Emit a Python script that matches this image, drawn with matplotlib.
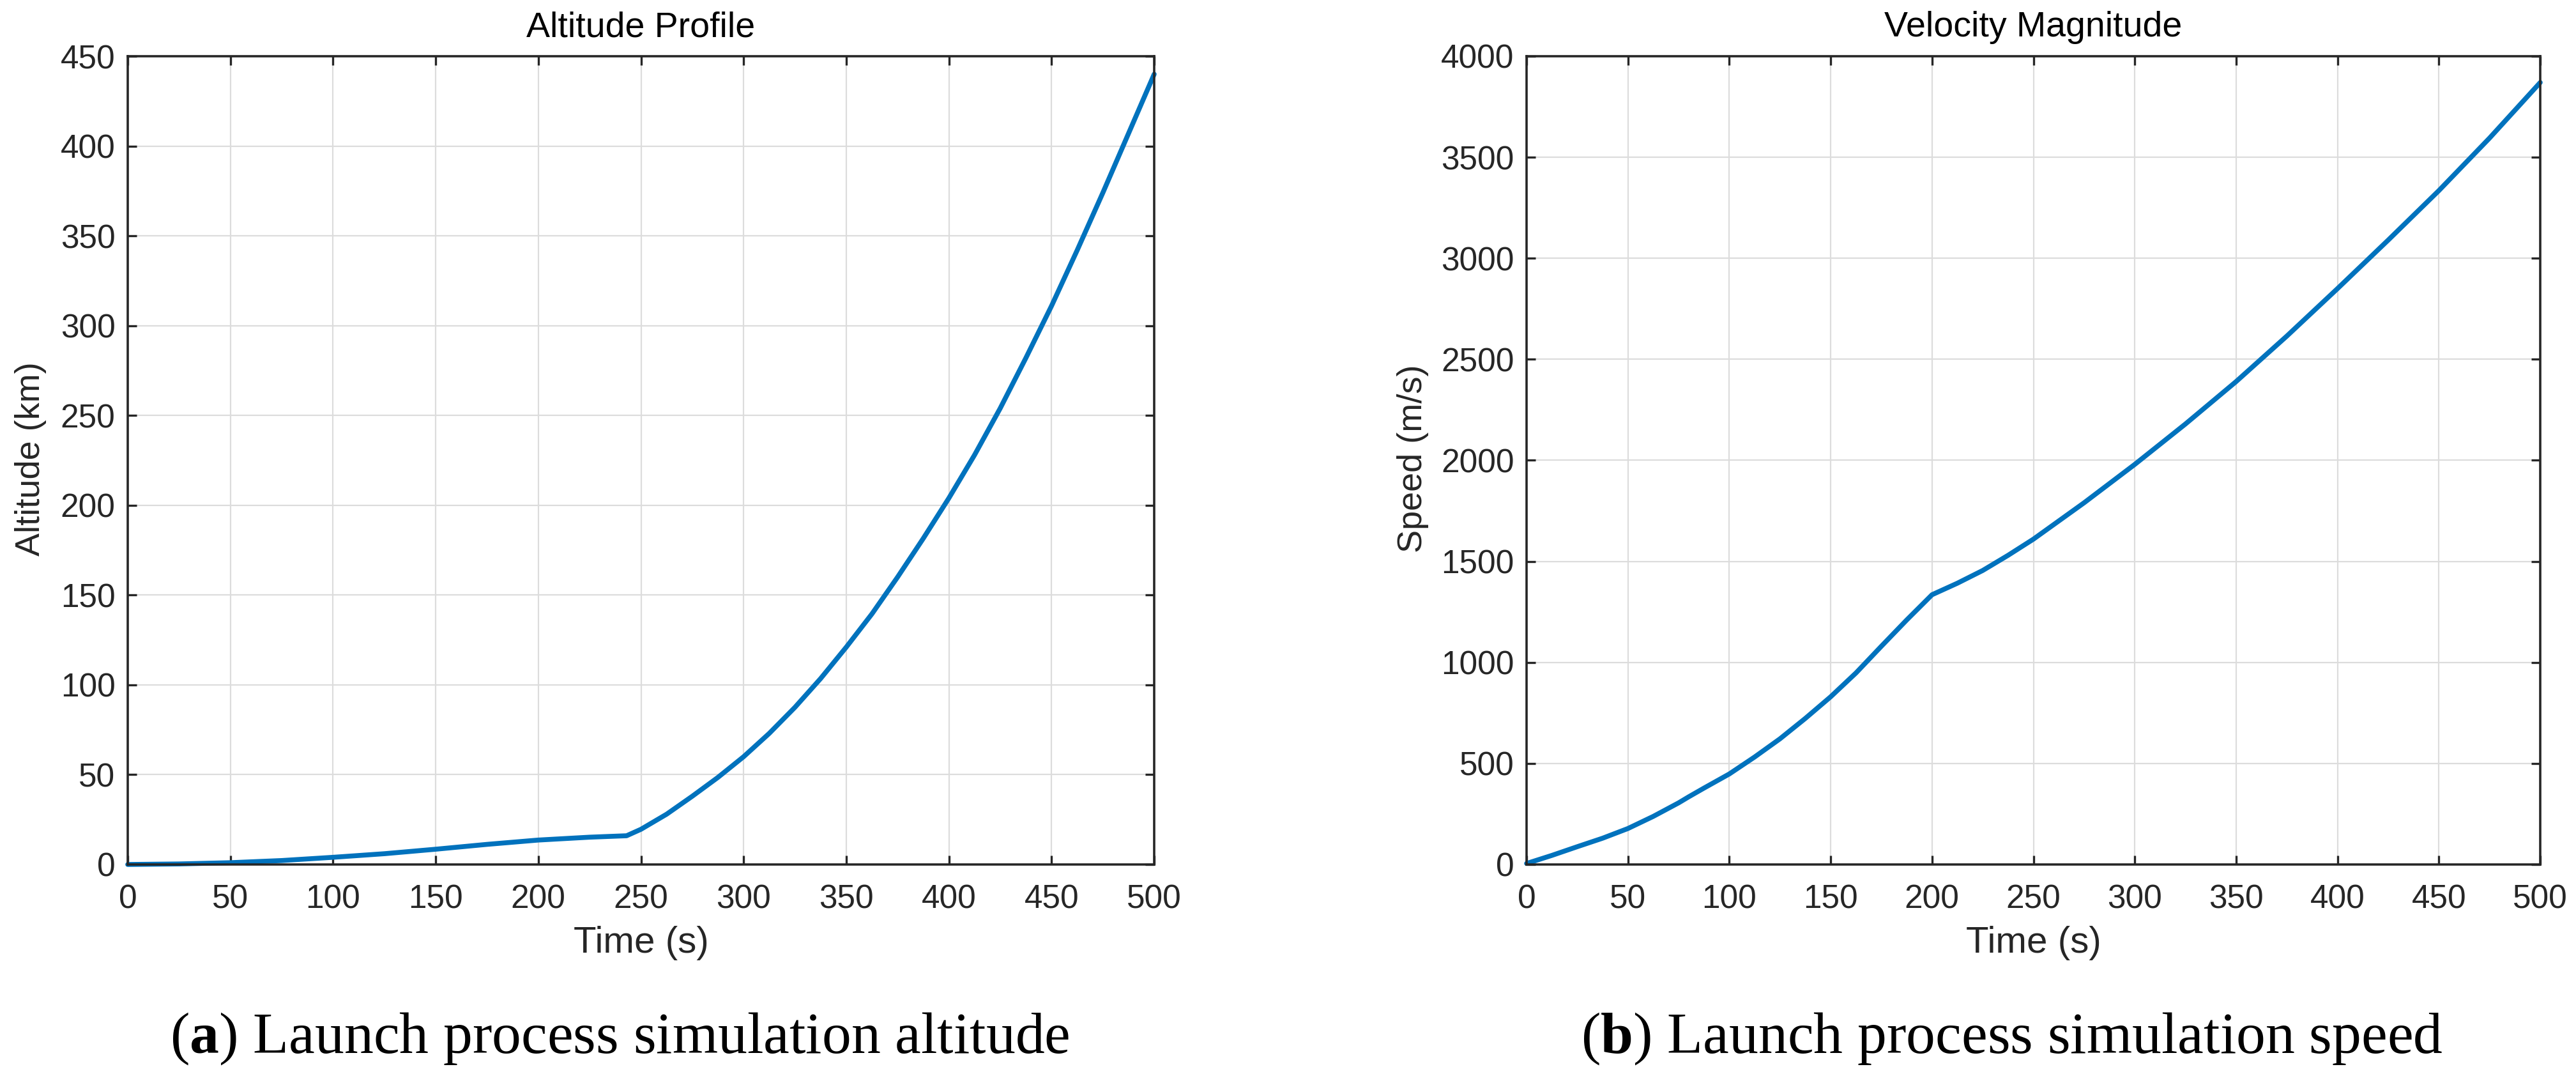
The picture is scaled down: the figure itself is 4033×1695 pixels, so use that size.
import numpy as np
import matplotlib
matplotlib.use("Agg")
import matplotlib.pyplot as plt

# Altitude profile (km) vs time (s)
alt_time = [0, 25, 50, 75, 100, 125, 150, 175, 200, 225, 243,
            250, 262.5, 275, 287.5, 300, 312.5, 325, 337.5, 350, 362.5, 375,
            387.5, 400, 412.5, 425, 437.5, 450, 462.5, 475, 487.5, 500]
alt_km = [0.0, 0.3, 1.0, 2.2, 4.0, 6.0, 8.5, 11.2, 13.6, 15.2, 16.0,
          19.6, 28.0, 38.0, 48.5, 60.0, 73.0, 87.5, 103.5, 121.0, 139.5, 160.0,
          181.5, 204.0, 228.0, 254.0, 282.0, 311.0, 342.0, 374.0, 407.0, 440.0]

# Velocity magnitude (m/s) vs time (s)
spd_time = [0, 12.5, 25, 37.5, 50, 62.5, 75, 80, 87.5, 100, 112.5, 125, 137.5,
            150, 162.5, 175, 187.5, 200, 212.5, 225, 237.5, 250, 262.5,
            275, 300, 325, 350, 375, 400, 425, 450, 475, 500]
spd_ms = [5, 45, 88, 130, 178, 238, 305, 335, 378, 448, 532, 622, 723,
          830, 948, 1080, 1210, 1335, 1392, 1455, 1530, 1610, 1700,
          1790, 1980, 2180, 2390, 2615, 2850, 3090, 3335, 3595, 3870]

x_ticks = np.arange(0, 501, 50)
alt_ticks = np.arange(0, 451, 50)
spd_ticks = np.arange(0, 4001, 500)

LINE = "#0072BD"
DARK = "#262626"

plt.rcParams["font.family"] = ["Liberation Sans", "DejaVu Sans"]
plt.rcParams["mathtext.fontset"] = "custom"
plt.rcParams["mathtext.rm"] = "Liberation Serif"
plt.rcParams["mathtext.bf"] = "Liberation Serif:bold"

W, H = 4033, 1695
fig = plt.figure(figsize=(W / 100, H / 100), dpi=100)

ax1 = fig.add_axes([200 / W, 1 - 1353 / H, 1607 / W, 1265 / H])
ax2 = fig.add_axes([2390 / W, 1 - 1353 / H, 1587 / W, 1265 / H])


def style(ax, yticks, ymax, title):
    ax.set_xlim(0, 500)
    ax.set_ylim(0, ymax)
    ax.set_xticks(x_ticks)
    ax.set_yticks(yticks)
    ax.grid(True, color="#dcdcdc", linewidth=1.6)
    ax.set_axisbelow(True)
    for s in ax.spines.values():
        s.set_color(DARK)
        s.set_linewidth(2.6)
    ax.tick_params(direction="in", length=10, width=2.4, color=DARK,
                   top=True, right=True, labelsize=37, labelcolor=DARK)
    ax.tick_params(axis="x", pad=22)
    ax.tick_params(axis="y", pad=14)
    ax.set_title(title, fontsize=40, color="black", pad=22)
    ax.set_xlabel("Time (s)", fontsize=42, color=DARK, labelpad=12)


ax1.plot(alt_time, alt_km, color=LINE, linewidth=5.5, solid_joinstyle="round",
         solid_capstyle="round", clip_on=False)
style(ax1, alt_ticks, 450, "Altitude Profile")

ax2.plot(spd_time, spd_ms, color=LINE, linewidth=5.5, solid_joinstyle="round",
         solid_capstyle="round", clip_on=False)
style(ax2, spd_ticks, 4000, "Velocity Magnitude")

# y labels
fig.text(48 / W, 1 - 718 / H, "Altitude (km)", rotation=90, ha="center", va="center",
         fontsize=39, color=DARK)
fig.text(2212 / W, 1 - 718 / H, "Speed (m/s)", rotation=90, ha="center", va="center",
         fontsize=39, color=DARK)

# sub-figure captions
fig.text(970 / W, 1 - 1648 / H, r"($\mathbf{a}$) Launch process simulation altitude",
         ha="center", va="baseline", fontsize=66, family="Liberation Serif")
fig.text(3150 / W, 1 - 1648 / H, r"($\mathbf{b}$) Launch process simulation speed",
         ha="center", va="baseline", fontsize=66, family="Liberation Serif")

fig.savefig("out.png", dpi=100)
